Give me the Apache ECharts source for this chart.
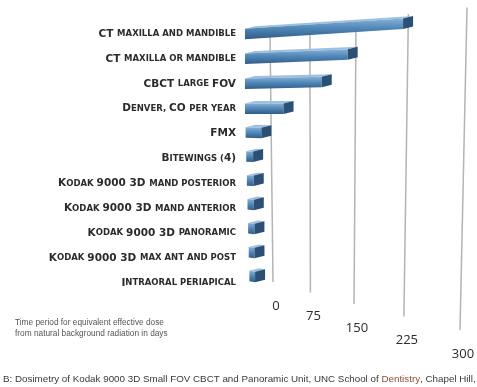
<!DOCTYPE html>
<html>
<head>
<meta charset="utf-8">
<script src="https://cdn.jsdelivr.net/npm/echarts@6/dist/echarts.min.js"></script>
<style>
  html, body { margin: 0; padding: 0; background: #fff; }
  #main { width: 477px; height: 387px; }
</style>
</head>
<body>
<div id="main"></div>
<script>
// 类目（从上到下）
const categories = [
  'CT maxilla and mandible',
  'CT maxilla or mandible',
  'CBCT large FOV',
  'Denver, CO per year',
  'FMX',
  'Bitewings (4)',
  'Kodak 9000 3D mand posterior',
  'Kodak 9000 3D mand anterior',
  'Kodak 9000 3D panoramic',
  'Kodak 9000 3D max ant and post',
  'Intraoral periapical'
]
// 天数
const days = [228, 157, 121, 64, 27, 12, 12, 11, 11, 10, 10]
// 刻度
const ticks = [0, 75, 150, 225, 300]

const noteLines = [
  'Time period for equivalent effective dose',
  'from natural background radiation in days'
]

// 把 "Kodak 9000" 变成小型大写字母的 rich 文本
function smallCaps(str) {
  let out = ''
  let cur = null
  let buf = ''
  for (const ch of str) {
    let k
    if (/[A-Z0-9]/.test(ch)) k = 'a'
    else if (/[a-z]/.test(ch)) k = 'b'
    else k = cur || 'a'
    if (k !== cur && buf) { out += '{' + cur + '|' + buf + '}'; buf = '' }
    cur = k
    buf += (k === 'b' ? ch.toUpperCase() : ch)
  }
  if (buf) out += '{' + cur + '|' + buf + '}'
  return out
}

// 透视：后墙上的 x（t 为 0~1）
function backX(cs, t) {
  return cs.x + cs.width * (t - 0.256 * t * (1 - t))
}
// 前面柱子的 x
function frontX(cs, t) {
  return backX(cs, t) - 25 * (1 - t)
}

const chart = echarts.init(document.getElementById('main'))

const option = {
  animation: false,
  grid: { left: 270, right: 12, top: 21.5, bottom: 91.5 },
  xAxis: { type: 'value', min: 0, max: 300, interval: 75, show: false },
  yAxis: {
    type: 'category',
    data: categories,
    inverse: true,
    axisLine: { show: false },
    axisTick: { show: false },
    splitLine: { show: false },
    axisLabel: {
      margin: 34,
      formatter: v => smallCaps(v),
      rich: {
        a: { fontFamily: 'DejaVu Sans', fontWeight: 'bold', fontSize: 10.5, color: '#2b2b2b' },
        b: { fontFamily: 'DejaVu Sans', fontWeight: 'bold', fontSize: 8.5, color: '#2b2b2b' }
      }
    }
  },
  series: [
    {
      // 网格线 + 刻度文字
      type: 'custom',
      z: 1,
      data: ticks.map(v => [v, 0]),
      renderItem: (params, api) => {
        const cs = params.coordSys
        const p = api.coord([api.value(0), 0])
        const t = (p[0] - cs.x) / cs.width
        const xTop = backX(cs, t) + 2 * t
        const xBot = backX(cs, t) + 3 - 8 * t
        const yTop = cs.y + 12 - 26 * t
        const yBot = cs.y + cs.height - 13.5 + 40 * t + 8 * t * t
        return {
          type: 'group',
          children: [
            {
              type: 'line',
              shape: { x1: xTop, y1: yTop, x2: xBot, y2: yBot },
              style: { stroke: '#b4b4b4', lineWidth: 1.5 }
            },
            {
              type: 'text',
              x: xBot + 3,
              y: yBot + 24,
              style: {
                text: String(api.value(0)),
                fill: '#2a2a2a',
                font: '13px "Open Sans"',
                align: 'center',
                verticalAlign: 'middle'
              }
            }
          ]
        }
      }
    },
    {
      // 立体柱子
      type: 'custom',
      z: 2,
      data: days.map((v, i) => [v, i]),
      renderItem: (params, api) => {
        const cs = params.coordSys
        const idx = api.value(1)
        const p0 = api.coord([0, idx])
        const p1 = api.coord([api.value(0), idx])
        const horizon = api.coord([0, 3])[1]
        const t = (p1[0] - cs.x) / cs.width
        const x0 = frontX(cs, 0) + Math.max(0, p0[1] - horizon) * 0.025
        const x1 = frontX(cs, t) + Math.max(0, p0[1] - horizon) * 0.025
        const yl = p0[1] - Math.max(0, p0[1] - horizon) * 0.04
        const yr = yl + (p0[1] - horizon) * 0.00087 * (x1 - x0)
        const h = 10.5
        const d = 10
        const dy = -2.5
        const face = [[x0, yl - h / 2], [x1, yr - h / 2], [x1, yr + h / 2], [x0, yl + h / 2]]
        const top = [[x0, yl - h / 2], [x0 + d, yl - h / 2 + dy], [x1 + d, yr - h / 2 + dy], [x1, yr - h / 2]]
        const cap = [[x1, yr - h / 2], [x1 + d, yr - h / 2 + dy], [x1 + d, yr + h / 2 + dy], [x1, yr + h / 2]]
        return {
          type: 'group',
          children: [
            { type: 'polygon', shape: { points: top }, style: { fill: '#9cc0de' } },
            {
              type: 'polygon',
              shape: { points: face },
              style: {
                fill: new echarts.graphic.LinearGradient(0, 0, 0, 1, [
                  { offset: 0, color: '#86b1d7' },
                  { offset: 0.45, color: '#5289ba' },
                  { offset: 1, color: '#2f5d88' }
                ])
              }
            },
            { type: 'polygon', shape: { points: cap }, style: { fill: '#2b5075' } }
          ]
        }
      }
    }
  ],
  graphic: [
    {
      type: 'text',
      left: 15,
      top: 317,
      style: {
        text: noteLines.join('\n'),
        fill: '#555',
        font: '8.3px "Liberation Sans"',
        lineHeight: 11
      }
    },
    {
      type: 'text',
      left: 3,
      top: 374,
      style: {
        text: '{n|B: Dosimetry of Kodak 9000 3D Small FOV CBCT and Panoramic Unit, UNC School of }{r|Dentistry}{n|, Chapel Hill,}',
        rich: {
          n: { fill: '#3a3a3a', fontFamily: 'Liberation Sans', fontSize: 9.8 },
          r: { fill: '#9a4a3a', fontFamily: 'Liberation Sans', fontSize: 9.8 }
        }
      }
    }
  ]
}

chart.setOption(option)
</script>
</body>
</html>
